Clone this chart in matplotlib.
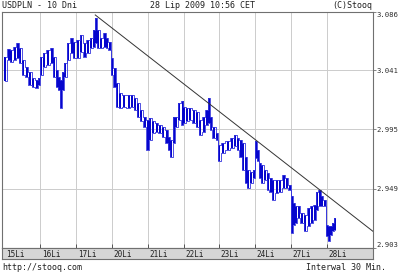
import matplotlib.pyplot as plt
import numpy as np

# czas w dniach (0 = poczatek 15 Lip)
czas = [0.00, 0.11, 0.19, 0.28, 0.37, 0.44, 0.52, 0.61, 0.70, 0.80, 0.89, 0.96,
        1.02, 1.11, 1.21, 1.31, 1.39, 1.46, 1.52, 1.58, 1.62, 1.69, 1.77, 1.87, 1.95,
        2.05, 2.14, 2.24, 2.33, 2.42, 2.50, 2.56, 2.62, 2.70, 2.79, 2.86, 2.93,
        3.00, 3.07, 3.14, 3.22, 3.33, 3.46, 3.56, 3.65, 3.73, 3.82, 3.91, 3.99,
        4.06, 4.15, 4.25, 4.34, 4.43, 4.53, 4.60, 4.66, 4.72, 4.80, 4.88, 4.97,
        5.01, 5.10, 5.19, 5.29, 5.38, 5.47, 5.56, 5.65, 5.71, 5.77, 5.84, 5.94,
        6.00, 6.10, 6.23, 6.35, 6.44, 6.52, 6.59, 6.67, 6.74, 6.81, 6.89, 6.96,
        7.03, 7.08, 7.14, 7.20, 7.28, 7.35, 7.43, 7.51, 7.60, 7.69, 7.79, 7.88, 7.96,
        8.03, 8.08, 8.14, 8.21, 8.31, 8.40, 8.49, 8.58, 8.67, 8.73, 8.80, 8.87, 8.94,
        9.01, 9.06, 9.12, 9.18, 9.23]
hi = [3.0514, 3.0571, 3.0566, 3.0592, 3.0618, 3.0579, 3.0489, 3.0437, 3.0398, 3.0346, 3.0334, 3.0346,
      3.0514, 3.0540, 3.0566, 3.0579, 3.0514, 3.0411, 3.0359, 3.0334, 3.0398, 3.0463, 3.0618, 3.0656, 3.0631,
      3.0644, 3.0682, 3.0618, 3.0644, 3.0656, 3.0721, 3.0811, 3.0721, 3.0656, 3.0695, 3.0656, 3.0631,
      3.0501, 3.0424, 3.0308, 3.0230, 3.0217, 3.0217, 3.0217, 3.0192, 3.0153, 3.0101, 3.0049, 3.0024,
      3.0037, 3.0011, 2.9998, 2.9985, 2.9972, 2.9946, 2.9894, 2.9869, 3.0049, 3.0049, 3.0153, 3.0166,
      3.0127, 3.0114, 3.0114, 3.0101, 3.0088, 3.0024, 3.0049, 3.0101, 3.0192, 3.0049, 2.9972, 2.9920,
      2.9830, 2.9843, 2.9856, 2.9882, 2.9907, 2.9882, 2.9869, 2.9843, 2.9739, 2.9636, 2.9623, 2.9636,
      2.9856, 2.9791, 2.9688, 2.9675, 2.9636, 2.9610, 2.9572, 2.9559, 2.9559, 2.9559, 2.9597, 2.9572, 2.9520,
      2.9430, 2.9378, 2.9352, 2.9352, 2.9300, 2.9287, 2.9339, 2.9352, 2.9365, 2.9468, 2.9481, 2.9430, 2.9404,
      2.9210, 2.9197, 2.9197, 2.9223, 2.9262]
lo = [3.0328, 3.0489, 3.0476, 3.0489, 3.0501, 3.0463, 3.0372, 3.0359, 3.0295, 3.0282, 3.0269, 3.0295,
      3.0372, 3.0437, 3.0450, 3.0463, 3.0359, 3.0282, 3.0256, 3.0114, 3.0256, 3.0359, 3.0489, 3.0540, 3.0501,
      3.0501, 3.0553, 3.0514, 3.0540, 3.0579, 3.0592, 3.0618, 3.0579, 3.0579, 3.0592, 3.0579, 3.0566,
      3.0372, 3.0282, 3.0127, 3.0114, 3.0127, 3.0114, 3.0127, 3.0101, 3.0049, 3.0011, 2.9972, 2.9791,
      2.9869, 2.9920, 2.9933, 2.9920, 2.9894, 2.9843, 2.9791, 2.9739, 2.9843, 2.9972, 3.0024, 2.9985,
      2.9998, 3.0011, 3.0024, 2.9998, 2.9972, 2.9907, 2.9933, 2.9985, 2.9998, 2.9946, 2.9882, 2.9869,
      2.9701, 2.9765, 2.9791, 2.9804, 2.9817, 2.9791, 2.9739, 2.9636, 2.9533, 2.9494, 2.9533, 2.9572,
      2.9727, 2.9701, 2.9572, 2.9533, 2.9559, 2.9481, 2.9468, 2.9404, 2.9455, 2.9468, 2.9494, 2.9494, 2.9481,
      2.9145, 2.9210, 2.9223, 2.9262, 2.9223, 2.9158, 2.9197, 2.9223, 2.9249, 2.9326, 2.9352, 2.9352, 2.9352,
      2.9120, 2.9081, 2.9132, 2.9158, 2.9171]

dni = ['15Li', '16Li', '17Li', '20Li', '21Li', '22Li', '23Li', '24Li', '27Li', '28Li']
poziomy = [2.903, 2.949, 2.995, 3.041, 3.086]
trend_t = [2.53, 10.29]
trend_p = [3.0837, 2.9159]

font = 'DejaVu Sans Mono'
ramka = '#707070'
niebieski = '#0000cc'

fig = plt.figure(figsize=(4, 2.73), dpi=100)
ax = fig.add_axes([0.005, 0.0916, 0.9275, 0.8645])
# slupki hi-lo + obrys
ax.vlines(czas, lo, hi, color=niebieski, lw=1.4)
ax.step(czas, hi, where='mid', color='#3535dd', lw=0.6)
ax.step(czas, lo, where='mid', color='#3535dd', lw=0.6)
ax.plot(trend_t, trend_p, color='#333333', lw=0.7)

ax.set_xlim(-0.075, 10.29)
ax.set_ylim(2.903, 3.086)
ax.set_xticks(range(1, 10))
ax.set_xticklabels([])
ax.set_yticks(poziomy)
ax.yaxis.tick_right()
ax.set_yticklabels(['%.3f' % p for p in poziomy], fontfamily=font, fontsize=5.2, color='#303030')
labs = ax.get_yticklabels()
labs[0].set_va('bottom')
labs[-1].set_va('top')
ax.tick_params(axis='y', direction='out', length=2, width=0.6, color=ramka, pad=0.5)
ax.tick_params(axis='x', direction='in', length=3, width=0.6, color='#404040')
ax.grid(color='#cccccc', lw=0.7)
ax.set_axisbelow(True)
for s in ax.spines.values():
    s.set_color(ramka)
    s.set_linewidth(0.8)

# pasek z dniami
ax2 = fig.add_axes([0.005, 0.0513, 0.9275, 0.0403])
ax2.set_facecolor('#d6d6d6')
ax2.set_xlim(-0.075, 10.29)
ax2.set_ylim(0, 1)
ax2.set_xticks([])
ax2.set_yticks([])
for s in ax2.spines.values():
    s.set_color(ramka)
    s.set_linewidth(0.8)
for i, d in enumerate(dni):
    ax2.text(max(i + 0.04, -0.04), 0.45, d, fontfamily=font, fontsize=5.5,
             va='center', ha='left', color='#202020')

fig.text(0.005, 0.995, 'USDPLN - 10 Dni', fontfamily=font, fontsize=6, va='top', color='#202020')
fig.text(0.375, 0.995, '28 Lip 2009 10:56 CET', fontfamily=font, fontsize=6, va='top', color='#202020')
fig.text(0.93, 0.995, '(C)Stooq', fontfamily=font, fontsize=6, va='top', ha='right', color='#202020')
fig.text(0.005, 0.005, 'http://stooq.com', fontfamily=font, fontsize=6, va='bottom', color='#202020')
fig.text(0.965, 0.005, 'Interwal 30 Min.', fontfamily=font, fontsize=6, va='bottom', ha='right', color='#202020')

fig.savefig('out.png', dpi=100)
